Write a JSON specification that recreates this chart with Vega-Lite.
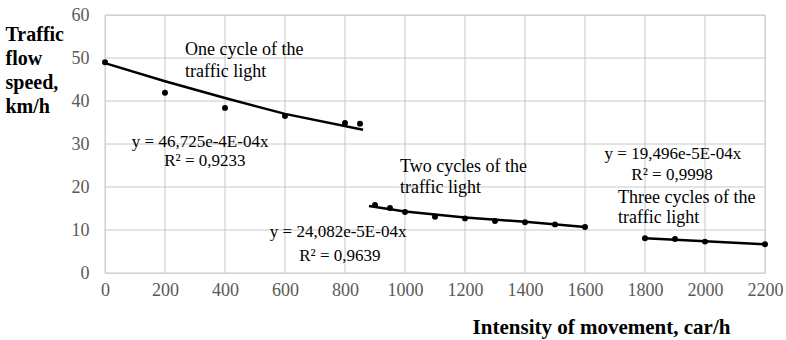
{
  "$schema": "https://vega.github.io/schema/vega-lite/v6.json",
  "autosize": "none",
  "width": 660,
  "height": 258,
  "padding": {"left": 105, "top": 15, "right": 21, "bottom": 67},
  "background": "white",
  "config": {
    "font": "Liberation Serif"
  },
  "datasets": {
    "xgrid": [{"v": 0}, {"v": 200}, {"v": 400}, {"v": 600}, {"v": 800}, {"v": 1000}, {"v": 1200}, {"v": 1400}, {"v": 1600}, {"v": 1800}, {"v": 2000}, {"v": 2200}],
    "ygrid": [{"v": 0}, {"v": 10}, {"v": 20}, {"v": 30}, {"v": 40}, {"v": 50}, {"v": 60}],
    "points": [
      {"group": "one", "x": 0, "y": 49.0},
      {"group": "one", "x": 200, "y": 41.9},
      {"group": "one", "x": 400, "y": 38.4},
      {"group": "one", "x": 600, "y": 36.5},
      {"group": "one", "x": 800, "y": 34.9},
      {"group": "one", "x": 850, "y": 34.7},
      {"group": "two", "x": 900, "y": 15.8},
      {"group": "two", "x": 950, "y": 15.1},
      {"group": "two", "x": 1000, "y": 14.2},
      {"group": "two", "x": 1100, "y": 13.1},
      {"group": "two", "x": 1200, "y": 12.7},
      {"group": "two", "x": 1300, "y": 12.1},
      {"group": "two", "x": 1400, "y": 11.8},
      {"group": "two", "x": 1500, "y": 11.3},
      {"group": "two", "x": 1600, "y": 10.7},
      {"group": "three", "x": 1800, "y": 8.1},
      {"group": "three", "x": 1900, "y": 7.9},
      {"group": "three", "x": 2000, "y": 7.3},
      {"group": "three", "x": 2200, "y": 6.7}
    ],
    "trend": [
      {"group": "one", "x": 0, "y": 48.8},
      {"group": "one", "x": 200, "y": 44.6},
      {"group": "one", "x": 400, "y": 40.7},
      {"group": "one", "x": 600, "y": 37.0},
      {"group": "one", "x": 860, "y": 33.3},
      {"group": "two", "x": 880, "y": 15.6},
      {"group": "two", "x": 1000, "y": 14.3},
      {"group": "two", "x": 1200, "y": 12.9},
      {"group": "two", "x": 1400, "y": 11.9},
      {"group": "two", "x": 1600, "y": 10.7},
      {"group": "three", "x": 1800, "y": 8.1},
      {"group": "three", "x": 2000, "y": 7.4},
      {"group": "three", "x": 2200, "y": 6.7}
    ],
    "labelsLeft": [
      {"x": 267, "y": 51.9, "label": "One cycle of the"},
      {"x": 267, "y": 46.7, "label": "traffic light"},
      {"x": 983, "y": 24.7, "label": "Two cycles of the"},
      {"x": 983, "y": 19.8, "label": "traffic light"},
      {"x": 1710, "y": 17.4, "label": "Three cycles of the"},
      {"x": 1710, "y": 12.8, "label": "traffic light"}
    ],
    "labelsCenter": [
      {"x": 317, "y": 30.5, "label": "y = 46,725e-4E-04x"},
      {"x": 333, "y": 26.0, "label": "R² = 0,9233"},
      {"x": 777, "y": 9.6, "label": "y = 24,082e-5E-04x"},
      {"x": 783, "y": 4.0, "label": "R² = 0,9639"},
      {"x": 1893, "y": 27.6, "label": "y = 19,496e-5E-04x"},
      {"x": 1890, "y": 22.7, "label": "R² = 0,9998"}
    ]
  },
  "layer": [
    {
      "data": {"name": "xgrid"},
      "mark": {"type": "rule", "color": "#c8c8c8", "strokeWidth": 1},
      "encoding": {
        "x": {
          "field": "v", "type": "quantitative",
          "scale": {"domain": [0, 2200], "nice": false},
          "axis": {
            "values": [0, 200, 400, 600, 800, 1000, 1200, 1400, 1600, 1800, 2000, 2200],
            "format": "d", "grid": false, "domain": false,
            "title": "Intensity of movement, car/h",
            "titleFont": "Liberation Serif", "titleFontSize": 21, "titleFontWeight": "bold", "titleColor": "black",
            "titleX": 496, "titleY": 60, "titleBaseline": "alphabetic", "titleAlign": "center",
            "labelFont": "Liberation Serif", "labelFontSize": 18, "labelColor": "#595959", "labelPadding": 8,
            "ticks": false, "labelFlush": false
          }
        }
      }
    },
    {
      "data": {"name": "ygrid"},
      "mark": {"type": "rule", "color": "#c8c8c8", "strokeWidth": 1},
      "encoding": {
        "y": {
          "field": "v", "type": "quantitative",
          "scale": {"domain": [0, 60], "nice": false},
          "axis": {
            "values": [0, 10, 20, 30, 40, 50, 60],
            "grid": false, "domain": false,
            "title": ["Traffic", "flow", "speed,", "km/h"],
            "titleFont": "Liberation Serif", "titleFontSize": 20, "titleFontWeight": "bold", "titleColor": "black",
            "titleAngle": 0, "titleAlign": "left", "titleBaseline": "alphabetic", "titleX": -100, "titleY": 25, "titleLineHeight": 24,
            "labelFont": "Liberation Serif", "labelFontSize": 18, "labelColor": "#595959", "labelPadding": 16,
            "ticks": false
          }
        }
      }
    },
    {
      "data": {"name": "trend"},
      "mark": {"type": "line", "color": "black", "strokeWidth": 2.5},
      "encoding": {
        "x": {"field": "x", "type": "quantitative"},
        "y": {"field": "y", "type": "quantitative"},
        "detail": {"field": "group"}
      }
    },
    {
      "data": {"name": "points"},
      "mark": {"type": "circle", "color": "black", "opacity": 1, "size": 35},
      "encoding": {
        "x": {"field": "x", "type": "quantitative"},
        "y": {"field": "y", "type": "quantitative"}
      }
    },
    {
      "data": {"name": "labelsLeft"},
      "mark": {"type": "text", "font": "Liberation Serif", "fontSize": 18, "color": "black", "baseline": "middle", "align": "left"},
      "encoding": {
        "x": {"field": "x", "type": "quantitative"},
        "y": {"field": "y", "type": "quantitative"},
        "text": {"field": "label"}
      }
    },
    {
      "data": {"name": "labelsCenter"},
      "mark": {"type": "text", "font": "Liberation Serif", "fontSize": 17, "color": "black", "baseline": "middle", "align": "center"},
      "encoding": {
        "x": {"field": "x", "type": "quantitative"},
        "y": {"field": "y", "type": "quantitative"},
        "text": {"field": "label"}
      }
    }
  ]
}
